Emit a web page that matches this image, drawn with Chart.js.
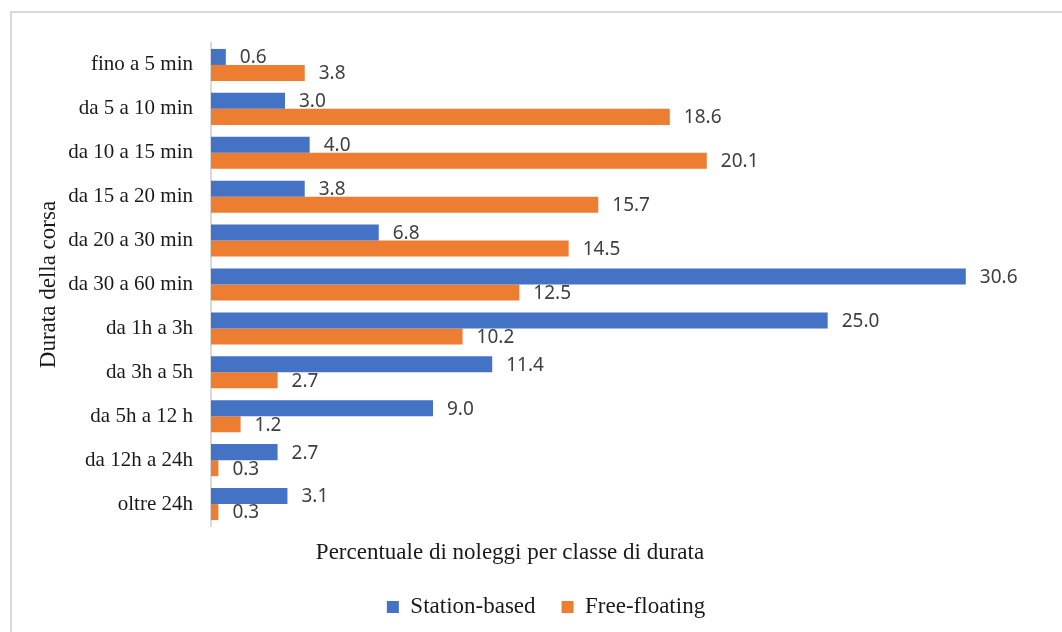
<!DOCTYPE html>
<html lang="it">
<head>
<meta charset="utf-8">
<title>Durata della corsa</title>
<script src="https://cdn.jsdelivr.net/npm/chart.js@4.4.1/dist/chart.umd.min.js"></script>
<style>
  html, body { margin: 0; padding: 0; background: #fff; overflow: hidden; }
  #wrap { position: relative; width: 1062px; height: 632px; }
  #frame {
    position: absolute; left: 10px; top: 11px; width: 1100px; height: 700px;
    border: 2px solid #d9d9d9; box-sizing: border-box;
  }
  #chart { position: absolute; left: 0; top: 0; }
</style>
</head>
<body>
<div id="wrap">
  <div id="frame"></div>
  <canvas id="chart" width="1062" height="632"></canvas>
</div>
<script>
const categories = [
  "fino a 5 min", "da 5 a 10 min", "da 10 a 15 min", "da 15 a 20 min",
  "da 20 a 30 min", "da 30 a 60 min", "da 1h a 3h", "da 3h a 5h",
  "da 5h a 12 h", "da 12h a 24h", "oltre 24h",
];
const stationBased = [0.6, 3.0, 4.0, 3.8, 6.8, 30.6, 25.0, 11.4, 9.0, 2.7, 3.1];
const freeFloating = [3.8, 18.6, 20.1, 15.7, 14.5, 12.5, 10.2, 2.7, 1.2, 0.3, 0.3];

const yTitle = "Durata della corsa";
const xTitle = "Percentuale di noleggi per classe di durata";

const SERIF = "'Liberation Serif', 'Times New Roman', serif";

// valori scritti accanto alla fine di ogni barra
const valueLabels = {
  id: "valueLabels",
  afterDatasetsDraw(chart) {
    const { ctx } = chart;
    ctx.save();
    ctx.font = "19px 'Noto Sans', sans-serif";
    ctx.fillStyle = "#404040";
    ctx.textAlign = "left";
    ctx.textBaseline = "middle";
    chart.data.datasets.forEach((ds, i) => {
      chart.getDatasetMeta(i).data.forEach((bar, j) => {
        ctx.fillText(Number(ds.data[j]).toFixed(1), bar.x + 14, bar.y + 1);
      });
    });
    ctx.restore();
  },
};

// titolo dell'asse x, un po' spostato a sinistra rispetto all'area del grafico
const xAxisTitle = {
  id: "xAxisTitle",
  afterDraw(chart) {
    const { ctx, chartArea } = chart;
    ctx.save();
    ctx.font = `23px ${SERIF}`;
    ctx.fillStyle = "#1a1a1a";
    ctx.textAlign = "center";
    ctx.textBaseline = "middle";
    ctx.fillText(xTitle, 510, chartArea.bottom + 27);
    ctx.restore();
  },
};

new Chart(document.getElementById("chart"), {
  type: "bar",
  data: {
    labels: categories,
    datasets: [
      { label: "Station-based", data: stationBased, backgroundColor: "#4472C4" },
      { label: "Free-floating", data: freeFloating, backgroundColor: "#ED7D31" },
    ],
  },
  options: {
    indexAxis: "y",
    responsive: false,
    animation: false,
    layout: { padding: { left: 30, top: 43, right: 0, bottom: 3.5 } },
    datasets: { bar: { categoryPercentage: 0.73, barPercentage: 1 } },
    scales: {
      x: {
        min: 0,
        max: 34.5,
        ticks: { display: false },
        grid: { display: false },
        border: { display: false },
        afterFit: (s) => { s.height = 43.5; },
      },
      y: {
        grid: { display: false, drawTicks: false },
        border: { display: true, color: "#d9d9d9", width: 2 },
        ticks: { color: "#1a1a1a", padding: 18, font: { family: SERIF, size: 21 } },
        title: {
          display: true,
          text: yTitle,
          color: "#1a1a1a",
          padding: { top: 5, bottom: 0 },
          font: { family: SERIF, size: 23 },
        },
        afterFit: (s) => { s.width = 181; },
      },
    },
    plugins: {
      legend: {
        position: "bottom",
        labels: {
          color: "#1a1a1a",
          boxWidth: 12,
          boxHeight: 12,
          padding: 26,
          font: { family: SERIF, size: 23 },
        },
      },
      tooltip: { enabled: false },
    },
  },
  plugins: [valueLabels, xAxisTitle],
});
</script>
</body>
</html>
